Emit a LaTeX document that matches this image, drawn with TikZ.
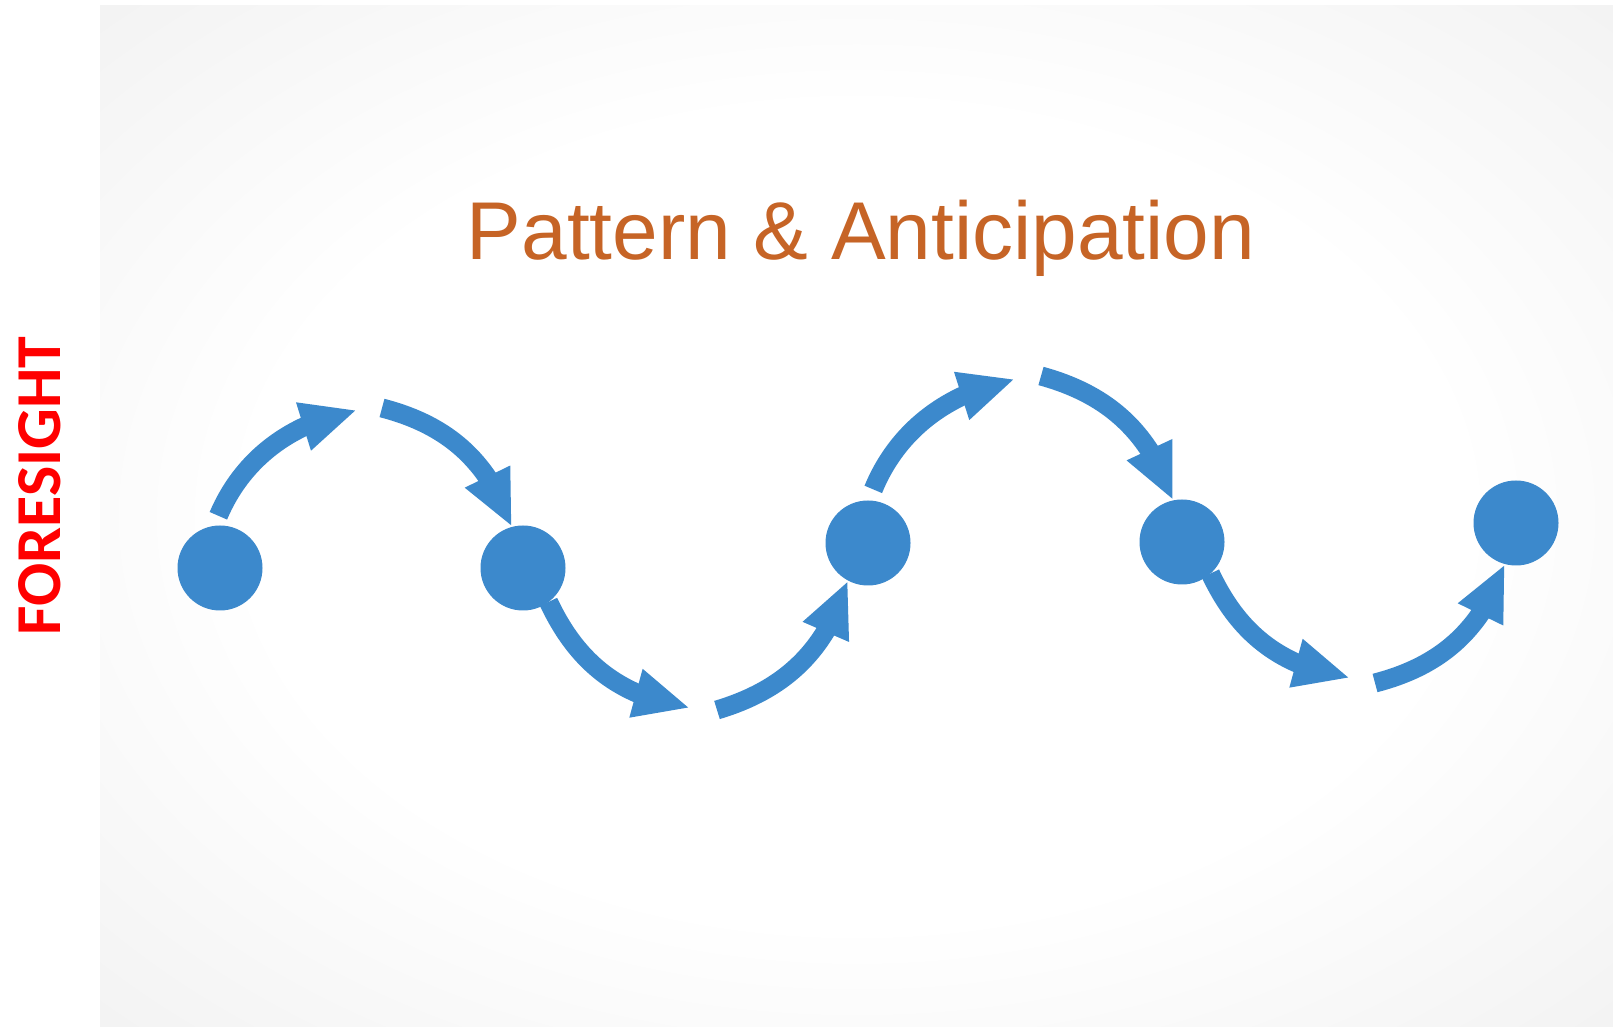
\documentclass[tikz,border=0pt]{standalone}
\usepackage{fontspec}
\setmainfont{Liberation Sans}
\newfontfamily\labelfont{Carlito}
\usetikzlibrary{arrows.meta,bending}

\definecolor{dotblue}{RGB}{60,137,204}
\definecolor{titleorange}{RGB}{198,100,38}
\pgfdeclareradialshading{panelglow}{\pgfpoint{0bp}{0bp}}{%
  color(0bp)=(white); color(20bp)=(white); color(36bp)=(gray!10);
  color(50bp)=(gray!18); color(70bp)=(gray!20)}

\begin{document}
\begin{tikzpicture}[x=1pt,y=1pt,
    dot/.style={circle,fill=dotblue,draw=dotblue,line width=1pt,
      inner sep=0pt,minimum size=84pt},
    flow/.style={draw=dotblue,line width=19pt,
      -{Triangle[length=56pt,width=46pt,flex=1]}}]
    \useasboundingbox (0,0) rectangle (1613,1027);
    \shade[shading=panelglow] (100,0) rectangle (1613,1021);

    % side label and title
    \node[rotate=90,text=red,font=\labelfont\bfseries\fontsize{64}{70}\selectfont]
      (side) at (40,541) {FORESIGHT};
    \node[anchor=base,text=titleorange,font=\fontsize{82}{98}\selectfont]
      (title) at (861,767) {Pattern \& Anticipation};

    % points of the pattern
    \node[dot] (p1) at (220,459) {};
    \node[dot] (p2) at (523,459) {};
    \node[dot] (p3) at (868,484) {};
    \node[dot] (p4) at (1182,485) {};
    \node[dot] (p5) at (1516,504) {};

    % ends of the arrows at the turning points
    \coordinate (top1) at (357,617);
    \coordinate (top1b) at (382,619);
    \coordinate (low1) at (690,319);
    \coordinate (low1b) at (717,317);
    \coordinate (top2) at (1015,648);
    \coordinate (top2b) at (1041,651);
    \coordinate (low2) at (1350,349);
    \coordinate (low2b) at (1375,344);

    \path[flow] (p1.98) [shorten <=11pt] to[bend left=28] (top1);
    \path[flow] (top1b) to[bend left=28] (p2.105);
    \path[flow] (p2.-53) to[bend right=28] (low1);
    \path[flow] (low1b) to[bend right=28] (p3.242);
    \path[flow] (p3.89) [shorten <=12pt] to[bend left=28] (top2);
    \path[flow] (top2b) to[bend left=28] (p4.102);
    \path[flow] (p4.-48) to[bend right=28] (low2);
    \path[flow] (low2b) to[bend right=28] (p5.255);
\end{tikzpicture}
\end{document}
